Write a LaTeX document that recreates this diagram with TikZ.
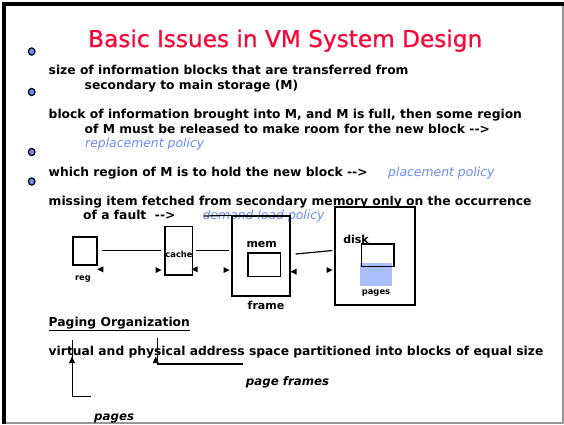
\documentclass[tikz,border=0pt]{standalone}
\usepackage{fontspec}
\setmainfont{DejaVu Sans}[
  BoldFont={DejaVu Sans Bold},
  ItalicFont={DejaVu Sans Oblique},
  BoldItalicFont={DejaVu Sans Bold Oblique}]
\newfontfamily\headfont{DejaVu Sans}[FakeBold=0.7]
\usetikzlibrary{calc}
\definecolor{titlered}{RGB}{250,5,55}
\definecolor{policyblue}{RGB}{105,140,245}
\definecolor{pagefill}{RGB}{170,192,250}
\definecolor{edgegray}{RGB}{150,150,150}
\tikzset{
  body/.style={anchor=base west, inner sep=0, font=\bfseries\fontsize{12.3}{14}\selectfont},
  policy/.style={anchor=base west, inner sep=0, text=policyblue, font=\itshape\fontsize{12.4}{14}\selectfont},
  note/.style={anchor=base west, inner sep=0, font=\bfseries\itshape\fontsize{11.8}{14}\selectfont},
  unit/.style={draw, line width=1.3pt, inner sep=0},
  tiny/.style={inner sep=0, font=\bfseries\fontsize{8.4}{10}\selectfont},
  tag/.style={inner sep=0, font=\bfseries\fontsize{11}{13}\selectfont},
  bulletdot/.style={fill=policyblue, draw=black, line width=1.2pt},
  wire/.style={line width=1.2pt},
  tipR/.pic={\fill (0,0) -- (-6,-3) -- (-6,3) -- cycle;},
  tipL/.pic={\fill (0,0) -- (6,-3) -- (6,3) -- cycle;},
  tipU/.pic={\fill (0,0) -- (-3,6.5) -- (3,6.5) -- cycle;}
}
\begin{document}
\begin{tikzpicture}[x=1pt,y=-1pt]
\useasboundingbox (0,0) rectangle (564,424);
\fill[white] (0,0) rectangle (564,424);

% slide frame: heavy top/left edge, light right/bottom edge
\fill[black] (2,2) rectangle (564,6);
\fill[black] (2,2) rectangle (6,424);
\fill[edgegray] (562,6) rectangle (563.6,424);
\fill[edgegray] (6,422.4) rectangle (564,424);

% title
\node[anchor=base west, inner sep=0, text=titlered,
      font=\headfont\fontsize{23.2}{26}\selectfont] (title) at (88,47)
  {Basic Issues in VM System Design};

% bullets
\filldraw[bulletdot] (31.7,51.5) ellipse (3.3 and 3.6);
\filldraw[bulletdot] (31.7,92) ellipse (3.3 and 3.6);
\filldraw[bulletdot] (31.7,152) ellipse (3.3 and 3.6);
\filldraw[bulletdot] (31.7,181.5) ellipse (3.3 and 3.6);

% issue list
\node[body] (t1a) at (48.5,74) {size of information blocks that are transferred from};
\node[body] (t1b) at (84.5,89) {secondary to main storage (M)};
\node[body] (t2a) at (48.5,118) {block of information brought into M, and M is full, then some region};
\node[body] (t2b) at (84.5,133) {of M must be released to make room for the new block -{}->};
\node[policy] (p2) at (85,147) {replacement policy};
\node[body] (t3) at (48.5,176) {which region of M is to hold the new block -{}->};
\node[policy] (p3) at (388,176) {placement policy};
\node[body] (t4a) at (48.5,205) {missing item fetched from secondary memory only on the occurrence};
\node[body] (t4b) at (83,219) {of a fault\ \ -{}->};
\node[policy] (p4) at (202.5,219) {demand load policy};

% memory hierarchy
\node[unit, minimum width=24pt, minimum height=28pt] (reg) at (85,251) {};
\node[unit, minimum width=27.7pt, minimum height=48.3pt] (cache) at (178.8,250.8) {};
\node[unit, minimum width=58pt, minimum height=80pt] (mem) at (261,256) {};
\node[unit, minimum width=32.7pt, minimum height=23.7pt] (frm) at (264.3,264.8) {};
\node[unit, minimum width=80pt, minimum height=98pt] (disk) at (375,256) {};
\node[fill=pagefill, inner sep=0, minimum width=31.7pt, minimum height=23pt] (pg) at (375.8,274.2) {};
\node[unit, minimum width=32.3pt, minimum height=22.7pt] (dblk) at (377.8,255.3) {};

\node[tiny] (regl) at (83,279) {reg};
\node[tiny] (cachel) at (179,254) {cache};
\node[tag] (meml) at (261.7,244) {mem};
\node[tag] (frml) at (266,305) {frame};
\node[tag] (diskl) at (356,239.3) {disk};
\node[tiny] (pgl) at (376,293.3) {pages};

\draw[wire] ($(reg.east)+(4,-0.3)$) -- ($(cache.west)+(-3.3,-0.1)$);
\draw[wire] ($(cache.east)+(2.3,-0.1)$) -- ($(mem.west)+(-2,-5.3)$);
\draw[wire] ($(mem.east)+(5,-2)$) -- ($(disk.west)+(-2,-5.5)$);
\draw[wire] (204,216) -- (mem.north west);

\pic at (97.3,269.3) {tipL};
\pic at (161.5,270) {tipR};
\pic at (191.5,269.3) {tipL};
\pic at (229.5,270) {tipR};
\pic at (290.5,271.7) {tipL};
\pic at (332.5,270) {tipR};

% paging organization
\node[body] (po) at (48.5,326.7) {Paging Organization};
\draw[wire] ($(po.base west)+(0,3.4)$) -- ($(po.base east)+(0,3.4)$);
\node[body] (t5) at (48.5,355) {virtual and physical address space partitioned into blocks of equal size};
\node[note] (pf) at (245.7,385) {page frames};
\node[note] (pgs) at (94,420.7) {pages};

\coordinate (v1top) at (72.3,340);
\coordinate (v1bot) at (72.3,396.7);
\coordinate (v1end) at (90.7,396.7);
\coordinate (v2top) at (157.3,338);
\coordinate (v2bot) at (157.3,364);
\coordinate (v2end) at (243,364);
\draw[wire] (v1top) -- (v1bot) -- (v1end);
\draw[wire] (v2top) -- (v2bot) -- (v2end);
\pic at (72,356.5) {tipU};
\pic at (155.7,356.5) {tipU};
\end{tikzpicture}
\end{document}
